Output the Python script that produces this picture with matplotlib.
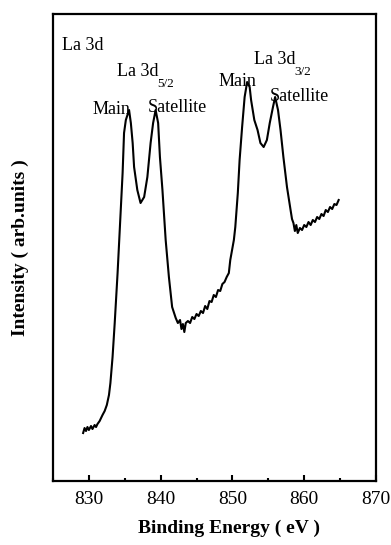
import matplotlib
matplotlib.use("Agg")
import matplotlib.pyplot as plt
from matplotlib.ticker import MultipleLocator

plt.rcParams['font.family'] = ['Liberation Serif', 'DejaVu Serif']

# La 3d XPS spectrum (arb. units)
energy = [829.2, 829.4, 829.6, 829.8, 830.0, 830.3, 830.5, 830.8, 831.0, 831.2,
          831.5, 831.9, 832.2, 832.5, 832.8, 833.0, 833.3, 833.6, 834.0, 834.35,
          834.7, 834.9, 835.15, 835.6, 835.85, 836.1, 836.3, 836.75, 837.2, 837.7,
          838.15, 838.6, 838.95, 839.3, 839.65, 839.9, 840.25, 840.7, 841.15, 841.6,
          842.1, 842.4, 842.7, 842.9, 843.1, 843.3, 843.5, 843.8, 844.1, 844.4,
          844.7, 845.0, 845.3, 845.6, 845.9, 846.2, 846.5, 846.8, 847.1, 847.4,
          847.7, 848.0, 848.3, 848.6, 848.9, 849.2, 849.5, 849.7, 850.2, 850.4,
          850.75, 851.0, 851.35, 851.7, 852.05, 852.4, 852.6, 853.05, 853.5, 853.9,
          854.35, 854.8, 855.2, 855.65, 855.95, 856.35, 856.7, 857.1, 857.6, 858.1,
          858.3, 858.5, 858.7, 858.9, 859.1, 859.4, 859.7, 860.0, 860.3, 860.6,
          860.9, 861.2, 861.5, 861.8, 862.1, 862.4, 862.7, 863.0, 863.3, 863.6,
          863.9, 864.2, 864.5, 864.8]
intensity = [48, 53, 50, 54, 51, 55, 52, 56, 54, 57,
             60, 66, 70, 76, 86, 98, 124, 158, 208, 258,
             308, 348, 361, 371, 358, 338, 314, 291, 278, 284,
             304, 338, 358, 371, 358, 324, 291, 241, 204, 174,
             163, 158, 161, 152, 157, 149, 158, 160, 158, 164,
             162, 167, 165, 170, 168, 175, 172, 180, 179, 186,
             184, 191, 190, 197, 199, 204, 208, 221, 241, 254,
             288, 321, 354, 384, 399, 394, 381, 361, 351, 338,
             334, 341, 358, 374, 384, 371, 351, 324, 294, 271,
             262, 258, 250, 256, 248, 253, 251, 256, 254, 259,
             256, 261, 259, 264, 262, 267, 265, 271, 269, 274,
             272, 277, 276, 281]

fig = plt.figure(figsize=(3.91, 5.45), dpi=100)
ax = fig.add_axes([0.1355, 0.1174, 0.8261, 0.8569])
ax.plot(energy, intensity, color='black', lw=1.5)

ax.set_xlim(825, 870)
ax.set_ylim(0, 467)
ax.xaxis.set_major_locator(MultipleLocator(10))
ax.xaxis.set_minor_locator(MultipleLocator(5))
ax.tick_params(axis='x', which='major', direction='in', length=4, width=1.5,
               labelsize=14, pad=7, top=False)
ax.tick_params(axis='x', which='minor', direction='in', length=2, width=1.5, top=False)
ax.set_yticks([])
for sp in ax.spines.values():
    sp.set_linewidth(1.6)

fs = 13
ax.text(826.2, 431, 'La 3d', fontsize=fs)
ax.text(830.5, 367, 'Main', fontsize=fs)
ax.text(838.2, 369, 'Satellite', fontsize=fs)
ax.text(848.0, 395, 'Main', fontsize=fs)
ax.text(855.2, 380, 'Satellite', fontsize=fs)

# level labels with small, low subscripts
for x, y, sub in [(833.9, 405, '5/2'), (853.0, 417, '3/2')]:
    t = ax.text(x, y, 'La 3d', fontsize=fs)
    ax.annotate(sub, xy=(1, 0), xycoords=t, xytext=(-0.5, -5),
                textcoords='offset points', fontsize=9.5, va='baseline')

fig.text(0.052, 0.5465, 'Intensity ( arb.units )', rotation=90, fontsize=14,
         fontweight='bold', ha='center', va='center')
fig.text(0.585, 0.022, 'Binding Energy ( eV )', fontsize=14, fontweight='bold',
         ha='center', va='baseline')

fig.savefig('out.png', dpi=100)
